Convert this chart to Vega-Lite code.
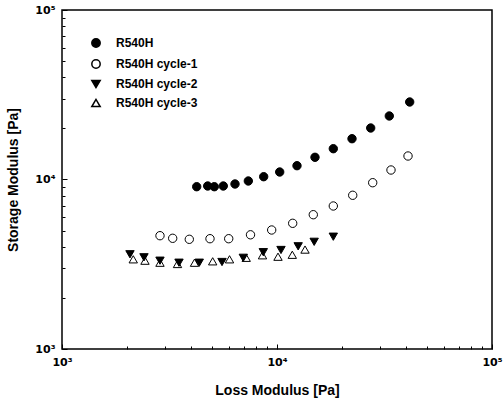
{
  "$schema": "https://vega.github.io/schema/vega-lite/v6.json",
  "width": 430,
  "height": 339,
  "autosize": "none",
  "padding": {"left": 62, "top": 10, "right": 11, "bottom": 56},
  "background": "white",
  "config": {"view": {"stroke": "black", "strokeWidth": 1.5}, "font": "Liberation Sans"},
  "data": {"values": [
    {"series": "R540H", "loss": 4232, "storage": 9068},
    {"series": "R540H", "loss": 4760, "storage": 9155},
    {"series": "R540H", "loss": 5109, "storage": 9068},
    {"series": "R540H", "loss": 5626, "storage": 9155},
    {"series": "R540H", "loss": 6378, "storage": 9408},
    {"series": "R540H", "loss": 7356, "storage": 9799},
    {"series": "R540H", "loss": 8671, "storage": 10388},
    {"series": "R540H", "loss": 10294, "storage": 11072},
    {"series": "R540H", "loss": 12388, "storage": 12062},
    {"series": "R540H", "loss": 15021, "storage": 13521},
    {"series": "R540H", "loss": 18276, "storage": 15196},
    {"series": "R540H", "loss": 22330, "storage": 17405},
    {"series": "R540H", "loss": 27280, "storage": 20130},
    {"series": "R540H", "loss": 33290, "storage": 23700},
    {"series": "R540H", "loss": 41420, "storage": 28660},
    {"series": "R540H cycle-1", "loss": 2856, "storage": 4661},
    {"series": "R540H cycle-1", "loss": 3272, "storage": 4499},
    {"series": "R540H cycle-1", "loss": 3909, "storage": 4438},
    {"series": "R540H cycle-1", "loss": 4879, "storage": 4474},
    {"series": "R540H cycle-1", "loss": 5962, "storage": 4474},
    {"series": "R540H cycle-1", "loss": 7530, "storage": 4718},
    {"series": "R540H cycle-1", "loss": 9447, "storage": 5036},
    {"series": "R540H cycle-1", "loss": 11830, "storage": 5515},
    {"series": "R540H cycle-1", "loss": 14750, "storage": 6199},
    {"series": "R540H cycle-1", "loss": 18276, "storage": 6977},
    {"series": "R540H cycle-1", "loss": 22500, "storage": 8070},
    {"series": "R540H cycle-1", "loss": 27870, "storage": 9574},
    {"series": "R540H cycle-1", "loss": 33900, "storage": 11376},
    {"series": "R540H cycle-1", "loss": 40680, "storage": 13760},
    {"series": "R540H cycle-2", "loss": 2071, "storage": 3621},
    {"series": "R540H cycle-2", "loss": 2406, "storage": 3475},
    {"series": "R540H cycle-2", "loss": 2856, "storage": 3319},
    {"series": "R540H cycle-2", "loss": 3501, "storage": 3229},
    {"series": "R540H cycle-2", "loss": 4350, "storage": 3229},
    {"series": "R540H cycle-2", "loss": 5549, "storage": 3260},
    {"series": "R540H cycle-2", "loss": 6970, "storage": 3452},
    {"series": "R540H cycle-2", "loss": 8636, "storage": 3725},
    {"series": "R540H cycle-2", "loss": 10437, "storage": 3838},
    {"series": "R540H cycle-2", "loss": 12545, "storage": 4035},
    {"series": "R540H cycle-2", "loss": 14890, "storage": 4289},
    {"series": "R540H cycle-2", "loss": 18276, "storage": 4597},
    {"series": "R540H cycle-3", "loss": 2145, "storage": 3382},
    {"series": "R540H cycle-3", "loss": 2432, "storage": 3319},
    {"series": "R540H cycle-3", "loss": 2856, "storage": 3229},
    {"series": "R540H cycle-3", "loss": 3445, "storage": 3173},
    {"series": "R540H cycle-3", "loss": 4134, "storage": 3229},
    {"series": "R540H cycle-3", "loss": 5022, "storage": 3291},
    {"series": "R540H cycle-3", "loss": 6014, "storage": 3382},
    {"series": "R540H cycle-3", "loss": 7190, "storage": 3452},
    {"series": "R540H cycle-3", "loss": 8562, "storage": 3572},
    {"series": "R540H cycle-3", "loss": 10108, "storage": 3503},
    {"series": "R540H cycle-3", "loss": 11780, "storage": 3597},
    {"series": "R540H cycle-3", "loss": 13500, "storage": 3860}
  ]},
  "layer": [
    {
      "mark": {"type": "point", "filled": true, "stroke": "black", "strokeWidth": 1, "size": 70, "opacity": 1},
      "encoding": {
        "x": {"field": "loss", "type": "quantitative",
          "scale": {"type": "log", "domain": [1000, 100000], "nice": false},
          "axis": {"orient": "bottom", "values": [1000, 10000, 100000], "offset": -5, "zindex": 1,
            "labelExpr": "datum.value == 1000 ? '10³' : datum.value == 10000 ? '10⁴' : '10⁵'",
            "tickSize": 5, "tickColor": "black", "tickWidth": 1, "domain": false, "grid": false,
            "labelFont": "DejaVu Sans", "labelFontWeight": "bold", "labelFontSize": 11, "labelColor": "black",
            "labelPadding": 7, "labelFlush": false, "labelOverlap": false, "labelBound": false,
            "title": "Loss Modulus [Pa]", "titleFont": "Liberation Sans", "titleFontSize": 14, "titleFontWeight": "bold", "titleColor": "black", "titlePadding": 16}},
        "y": {"field": "storage", "type": "quantitative",
          "scale": {"type": "log", "domain": [1000, 100000], "nice": false},
          "axis": {"orient": "left", "values": [1000, 10000, 100000], "offset": -5, "zindex": 1,
            "labelExpr": "datum.value == 1000 ? '10³' : datum.value == 10000 ? '10⁴' : '10⁵'",
            "tickSize": 5, "tickColor": "black", "tickWidth": 1, "domain": false, "grid": false,
            "labelFont": "DejaVu Sans", "labelFontWeight": "bold", "labelFontSize": 11, "labelColor": "black",
            "labelPadding": 7, "labelFlush": false, "labelOverlap": false, "labelBound": false,
            "title": "Storage Modulus [Pa]", "titleFont": "Liberation Sans", "titleFontSize": 14, "titleFontWeight": "bold", "titleColor": "black", "titlePadding": 14}},
        "shape": {"field": "series", "type": "nominal",
          "scale": {"domain": ["R540H", "R540H cycle-1", "R540H cycle-2", "R540H cycle-3"], "range": ["circle", "circle", "triangle-down", "triangle-up"]},
          "legend": {"orient": "none", "legendX": 28, "legendY": 27, "title": null,
            "labelFont": "Liberation Sans", "labelFontWeight": "bold", "labelFontSize": 12, "labelColor": "black",
            "symbolSize": 70, "rowPadding": 5, "labelOffset": 14, "padding": 0,
            "encode": {"symbols": {"update": {"stroke": {"value": "black"}, "strokeWidth": {"value": 1}}}}}},
        "fill": {"field": "series", "type": "nominal",
          "scale": {"domain": ["R540H", "R540H cycle-1", "R540H cycle-2", "R540H cycle-3"], "range": ["black", "transparent", "black", "transparent"]},
          "legend": {"orient": "none", "legendX": 28, "legendY": 27, "title": null,
            "labelFont": "Liberation Sans", "labelFontWeight": "bold", "labelFontSize": 12, "labelColor": "black",
            "symbolSize": 70, "rowPadding": 5, "labelOffset": 14, "padding": 0,
            "encode": {"symbols": {"update": {"stroke": {"value": "black"}, "strokeWidth": {"value": 1}}}}}}
      }
    },
    {
      "mark": {"type": "point", "opacity": 0},
      "encoding": {
        "x": {"field": "loss", "type": "quantitative",
          "scale": {"type": "log", "domain": [1000, 100000], "nice": false},
          "axis": {"orient": "bottom", "offset": -3, "zindex": 1, "values": [2000, 3000, 4000, 5000, 6000, 7000, 8000, 9000, 20000, 30000, 40000, 50000, 60000, 70000, 80000, 90000],
            "labels": false, "tickSize": 3, "tickColor": "black", "tickWidth": 1, "domain": false, "grid": false, "title": null}},
        "y": {"field": "storage", "type": "quantitative",
          "scale": {"type": "log", "domain": [1000, 100000], "nice": false},
          "axis": {"orient": "left", "offset": -3, "zindex": 1, "values": [2000, 3000, 4000, 5000, 6000, 7000, 8000, 9000, 20000, 30000, 40000, 50000, 60000, 70000, 80000, 90000],
            "labels": false, "tickSize": 3, "tickColor": "black", "tickWidth": 1, "domain": false, "grid": false, "title": null}}
      }
    }
  ],
  "resolve": {"axis": {"x": "independent", "y": "independent"}}
}
